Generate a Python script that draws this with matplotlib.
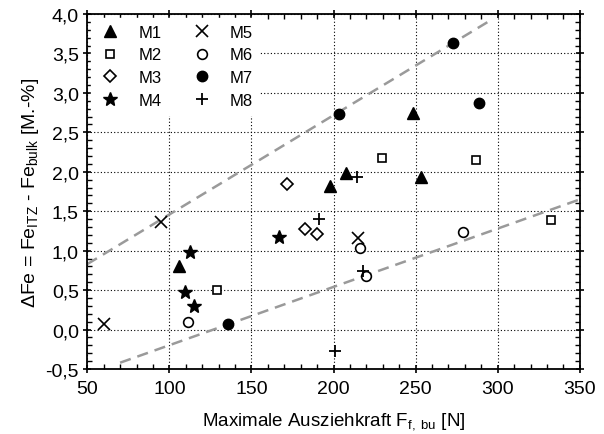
import numpy as np
import matplotlib
matplotlib.use('Agg')
import matplotlib.pyplot as plt
from matplotlib.ticker import MultipleLocator, FuncFormatter

plt.rcParams['font.family'] = ['Liberation Sans', 'DejaVu Sans']
plt.rcParams['mathtext.fontset'] = 'custom'
plt.rcParams['mathtext.rm'] = 'Liberation Sans'
plt.rcParams['mathtext.it'] = 'Liberation Sans:italic'

# data: (force [N], delta Fe [M.-%])
m1_x = [105.8, 197.7, 207.5, 248.1, 253.0]
m1_y = [0.81, 1.82, 1.98, 2.74, 1.94]
m2_x = [129.2, 229.3, 286.7, 332.5]
m2_y = [0.50, 2.17, 2.15, 1.39]
m3_x = [171.4, 182.4, 189.9]
m3_y = [1.84, 1.28, 1.21]
m4_x = [109.3, 112.6, 114.9, 166.7]
m4_y = [0.47, 0.98, 0.30, 1.17]
m5_x = [60.1, 95.2, 214.8]
m5_y = [0.07, 1.36, 1.16]
m6_x = [111.6, 216.4, 219.5, 279.0]
m6_y = [0.09, 1.03, 0.68, 1.24]
m7_x = [135.6, 203.1, 272.7, 288.4]
m7_y = [0.07, 2.73, 3.63, 2.87]
m8_x = [190.9, 200.7, 214.1, 218.1]
m8_y = [1.40, -0.27, 1.94, 0.74]

# dashed trend lines, endpoints
upper_x = [50, 294]
upper_y = [0.83, 3.90]
lower_x = [70, 350]
lower_y = [-0.42, 1.65]

fig = plt.figure(figsize=(6.04, 4.35), dpi=100)
ax = fig.add_axes([0.1445, 0.1494, 0.8155, 0.8161])

ax.plot(upper_x, upper_y, color='#9a9a9a', lw=1.8, dashes=(4.5, 2.8), zorder=2)
ax.plot(lower_x, lower_y, color='#9a9a9a', lw=1.8, dashes=(4.5, 2.8), zorder=2)

kw = dict(color='black', zorder=3, clip_on=False, ls='none')
ax.plot(m1_x, m1_y, '^', ms=8.5, mfc='black', mec='black', label='M1', **kw)
ax.plot(m2_x, m2_y, 's', ms=6, mfc='white', mec='black', mew=1.2, label='M2', **kw)
ax.plot(m3_x, m3_y, 'D', ms=6.5, mfc='white', mec='black', mew=1.2, label='M3', **kw)
ax.plot(m4_x, m4_y, '*', ms=10.5, mfc='black', mec='black', label='M4', **kw)
ax.plot(m5_x, m5_y, 'x', ms=9, mew=1.2, label='M5', **kw)
ax.plot(m6_x, m6_y, 'o', ms=7, mfc='white', mec='black', mew=1.2, label='M6', **kw)
ax.plot(m7_x, m7_y, 'o', ms=7.5, mfc='black', mec='black', label='M7', **kw)
ax.plot(m8_x, m8_y, '+', ms=9, mew=1.3, label='M8', **kw)

ax.set_xlim(50, 350)
ax.set_ylim(-0.5, 4.0)
ax.xaxis.set_major_locator(MultipleLocator(50))
ax.xaxis.set_minor_locator(MultipleLocator(10))
ax.yaxis.set_major_locator(MultipleLocator(0.5))
ax.yaxis.set_minor_locator(MultipleLocator(0.1))
ax.yaxis.set_major_formatter(FuncFormatter(lambda v, p: f"{v:.1f}".replace('.', ',')))

ax.tick_params(which='major', direction='inout', length=6, width=1.2, labelsize=14,
               top=True, right=True)
ax.tick_params(axis='x', which='major', pad=5)
ax.tick_params(axis='y', which='major', pad=3)
ax.tick_params(which='minor', direction='in', length=3.5, width=1, top=True, right=True)
for s in ax.spines.values():
    s.set_linewidth(1.3)

ax.grid(True, which='major', color='black', ls=(0, (1, 2)), lw=0.8, zorder=1)

ax.set_xlabel(r'Maximale Ausziehkraft F$_{\mathrm{f,\ bu}}$ [N]', fontsize=13.5, labelpad=9)
ax.set_ylabel(r'ΔFe = Fe$_{\mathrm{ITZ}}$ - Fe$_{\mathrm{bulk}}$ [M.-%]', fontsize=14, labelpad=3)

leg = ax.legend(loc='upper left', ncol=2, frameon=True, fontsize=12, handletextpad=0.93,
                columnspacing=1.65, labelspacing=0.47, borderaxespad=0.23, handlelength=1.5)
leg.get_frame().set_facecolor('white')
leg.get_frame().set_edgecolor('white')
leg.get_frame().set_alpha(1)
leg.set_zorder(4)

fig.savefig('out.png', dpi=100)
